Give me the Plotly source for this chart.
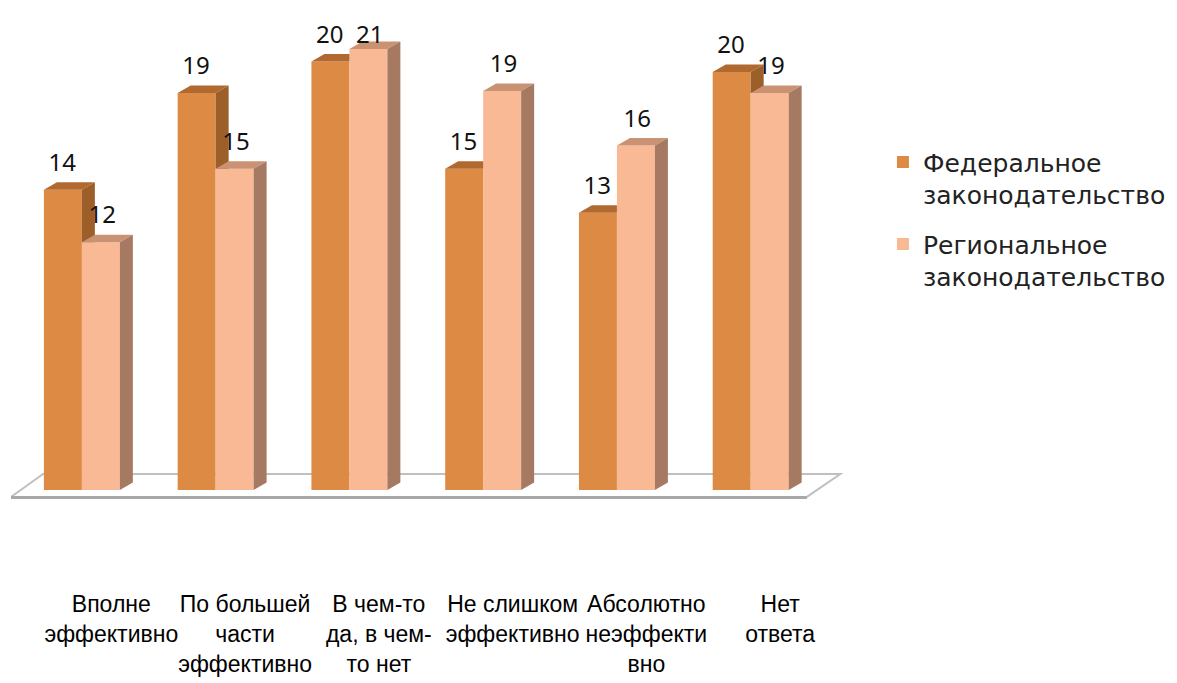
import plotly.graph_objects as go

# ---- data ----
categories = [
    "Вполне<br>эффективно",
    "По большей<br>части<br>эффективно",
    "В чем-то<br>да, в чем-<br>то нет",
    "Не слишком<br>эффективно",
    "Абсолютно<br>неэффекти<br>вно",
    "Нет<br>ответа",
]
series_names = ["Федеральное<br>законодательство", "Региональное<br>законодательство"]
federal = [14.3, 18.9, 20.4, 15.3, 13.2, 19.9]
regional = [11.8, 15.3, 21.0, 19.0, 16.4, 18.9]

# ---- style ----
FED_FRONT, FED_TOP, FED_SIDE = "#DD8A45", "#B06A30", "#9C5F2A"
REG_FRONT, REG_TOP, REG_SIDE = "#F9B994", "#C99373", "#A67A62"
BAR_W = 0.284
DX, DY = 0.097, 0.36
YMIN, YMAX = -1, 22.38
LABEL_FONT = "Noto Sans, Open Sans, DejaVu Sans"
LEGEND_FONT = "DejaVu Sans, Noto Sans"
TICK_FONT = "Liberation Sans, Arial, sans-serif"

n = len(categories)
xs = list(range(n))

fig = go.Figure()
fig.add_trace(go.Bar(x=xs, y=federal, name=series_names[0], marker=dict(color=FED_FRONT, line=dict(width=0)),
                     width=BAR_W, offset=-BAR_W, hoverinfo="skip", legendgroup="a"))
fig.add_trace(go.Bar(x=xs, y=regional, name=series_names[1], marker=dict(color=REG_FRONT, line=dict(width=0)),
                     width=BAR_W, offset=0, hoverinfo="skip", legendgroup="b"))


def poly_trace(polys, color):
    px, py = [], []
    for p in polys:
        for (a, b) in p + [p[0]]:
            px.append(a)
            py.append(b)
        px.append(None)
        py.append(None)
    return go.Scatter(x=px, y=py, mode="lines", fill="toself", fillcolor=color,
                      line=dict(width=0, color=color), hoverinfo="skip", showlegend=False)


fed_tops, fed_sides, reg_tops, reg_sides = [], [], [], []
for i in xs:
    vf, vr = federal[i], regional[i]
    xl, xm, xrr = i - BAR_W, i, i + BAR_W
    if vr >= vf:
        fed_tops.append([(xl, vf), (xm, vf), (xm, vf + DY), (xl + DX, vf + DY)])
    else:
        fed_tops.append([(xl, vf), (xm, vf), (xm + DX, vf + DY), (xl + DX, vf + DY)])
        fed_sides.append([(xm, vr), (xm + DX, vr), (xm + DX, vf + DY), (xm, vf)])
    reg_tops.append([(xm, vr), (xrr, vr), (xrr + DX, vr + DY), (xm + DX, vr + DY)])
    reg_sides.append([(xrr, 0), (xrr + DX, DY), (xrr + DX, vr + DY), (xrr, vr)])

fig.add_trace(poly_trace(fed_tops, FED_TOP))
if fed_sides:
    fig.add_trace(poly_trace(fed_sides, FED_SIDE))
fig.add_trace(poly_trace(reg_tops, REG_TOP))
fig.add_trace(poly_trace(reg_sides, REG_SIDE))

# value labels (kept inside the plot area, like the original)
def label_y(v):
    return min(v + DY + 0.25, 21.0)

fig.add_trace(go.Scatter(
    x=[i - BAR_W / 2 - 0.005 for i in xs] + [i + BAR_W / 2 + 0.01 for i in xs],
    y=[label_y(v) for v in federal] + [label_y(v) for v in regional],
    text=[str(round(v)) for v in federal] + [str(round(v)) for v in regional],
    mode="text", textposition="top center",
    textfont=dict(family=LABEL_FONT, size=24, color="#111111"),
    hoverinfo="skip", showlegend=False, cliponaxis=False))

# floor (decorative platform)
x0f, x1f = -0.5 - 0.03, n - 0.5 - 0.08
floor_path = (f"M {x0f},{-0.33} L {x0f + 0.24},{0.76} L {x1f + 0.25},{0.76} "
              f"L {x1f},{-0.33} Z")
fig.add_shape(type="path", path=floor_path, xref="x", yref="y", layer="below",
              fillcolor="#ffffff", line=dict(color="#c0c0c0", width=2))
fig.add_shape(type="line", x0=x0f, y0=-0.36, x1=x1f, y1=-0.36, xref="x", yref="y", layer="below",
              line=dict(color="#a8a8a8", width=3))

# page body has an 8px margin: figure is sized/offset to compensate
fig.update_layout(
    width=1169, height=675,
    margin=dict(l=3, r=330, t=12, b=172, autoexpand=False),
    paper_bgcolor="white", plot_bgcolor="white",
    barmode="overlay",
    showlegend=True,
    legend=dict(x=1.043, y=0.757, xanchor="left", yanchor="top", valign="top",
                font=dict(family=LEGEND_FONT, size=25, color="#222222"),
                tracegroupgap=14, itemsizing="constant", bgcolor="rgba(0,0,0,0)"),
    xaxis=dict(range=[-0.53, 5.72], tickmode="array",
               tickvals=[i + 0.22 for i in xs], ticktext=categories,
               showgrid=False, zeroline=False, showline=False, ticks="",
               tickangle=0, automargin=False,
               ticklabelstandoff=77,
               tickfont=dict(family=TICK_FONT, size=23, color="#000000")),
    yaxis=dict(range=[YMIN, YMAX], visible=False, showgrid=False, zeroline=False,
               automargin=False),
)

fig.write_html("out.html")
